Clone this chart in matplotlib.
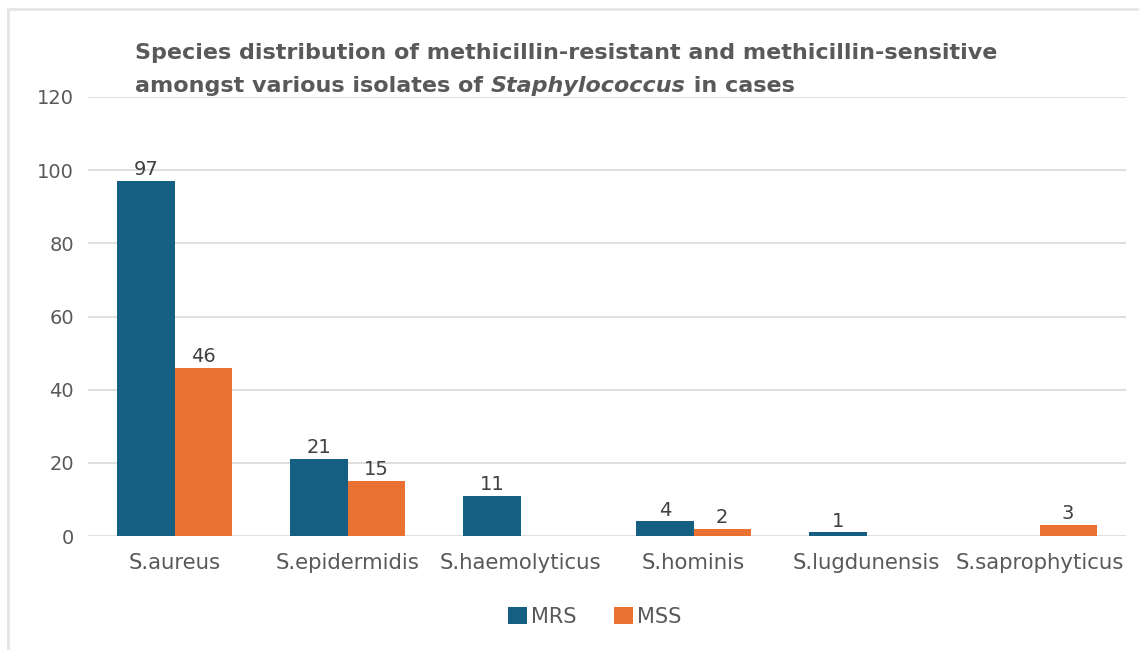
import matplotlib
matplotlib.use("Agg")
import matplotlib.pyplot as plt
import numpy as np
from matplotlib.patches import Rectangle

# data
species = ["S.aureus", "S.epidermidis", "S.haemolyticus", "S.hominis",
           "S.lugdunensis", "S.saprophyticus"]
mrs = [97, 21, 11, 4, 1, 0]
mss = [46, 15, 0, 2, 0, 3]
y_ticks = [0, 20, 40, 60, 80, 100, 120]

BLUE = "#156082"
ORANGE = "#E97132"
TXT = "#595959"
GRID = "#D9D9D9"

plt.rcParams["font.family"] = ["DejaVu Sans"]

W, H = 1139, 650
fig = plt.figure(figsize=(W / 100, H / 100), dpi=100)
ax = fig.add_axes([88 / W, 114 / H, (1126 - 88) / W, (536 - 97) / H])

x = np.arange(len(species))
bw = 0.33
b1 = ax.bar(x - bw / 2, mrs, bw, color=BLUE, label="MRS", zorder=3)
b2 = ax.bar(x + bw / 2, mss, bw, color=ORANGE, label="MSS", zorder=3)

for bars, vals in ((b1, mrs), (b2, mss)):
    for r, v in zip(bars, vals):
        if v == 0:
            continue
        ax.text(r.get_x() + r.get_width() / 2, v + 0.5, str(v), ha="center",
                va="bottom", fontsize=14, color="#404040")

ax.set_xlim(-0.5, len(species) - 0.5)
ax.set_ylim(0, 120)
ax.set_yticks(y_ticks)
ax.set_xticks(x)
ax.set_xticklabels(species)
ax.tick_params(axis="both", length=0, colors=TXT)
ax.tick_params(axis="y", pad=10, labelsize=14)
ax.tick_params(axis="x", pad=12, labelsize=15.3)
ax.yaxis.grid(True, color=GRID, linewidth=1.2, zorder=0)
for s in ax.spines.values():
    s.set_visible(False)

# outer chart frame (only top/left edges show in the crop)
fig.patches.append(Rectangle((8 / W, -0.1), 1.2, 1 - 9 / H + 0.1,
                             transform=fig.transFigure, fill=False,
                             edgecolor="#E6E6E6", linewidth=2))

# title, second line has italic genus name
tx, ty1, ty2 = 135 / W, 1 - 59 / H, 1 - 92 / H
fig.text(tx, ty1, "Species distribution of methicillin-resistant and methicillin-sensitive",
         fontsize=16, fontweight="bold", color=TXT, va="baseline")
renderer = fig.canvas.get_renderer()
xpos = tx
for part, style in (("amongst various isolates of ", "normal"),
                    ("Staphylococcus", "italic"), (" in cases", "normal")):
    t = fig.text(xpos, ty2, part, fontsize=16, fontweight="bold", style=style,
                 color=TXT, va="baseline")
    bb = t.get_window_extent(renderer=renderer)
    xpos += bb.width / W

fig.legend(handles=[b1, b2], labels=["MRS", "MSS"], loc="center",
           bbox_to_anchor=(595 / W, 1 - 617 / H), ncol=2, frameon=False,
           fontsize=15, labelcolor=TXT, handlelength=0.9, handleheight=0.9,
           handletextpad=0.2, columnspacing=1.8)

fig.savefig("out.png", dpi=100)
